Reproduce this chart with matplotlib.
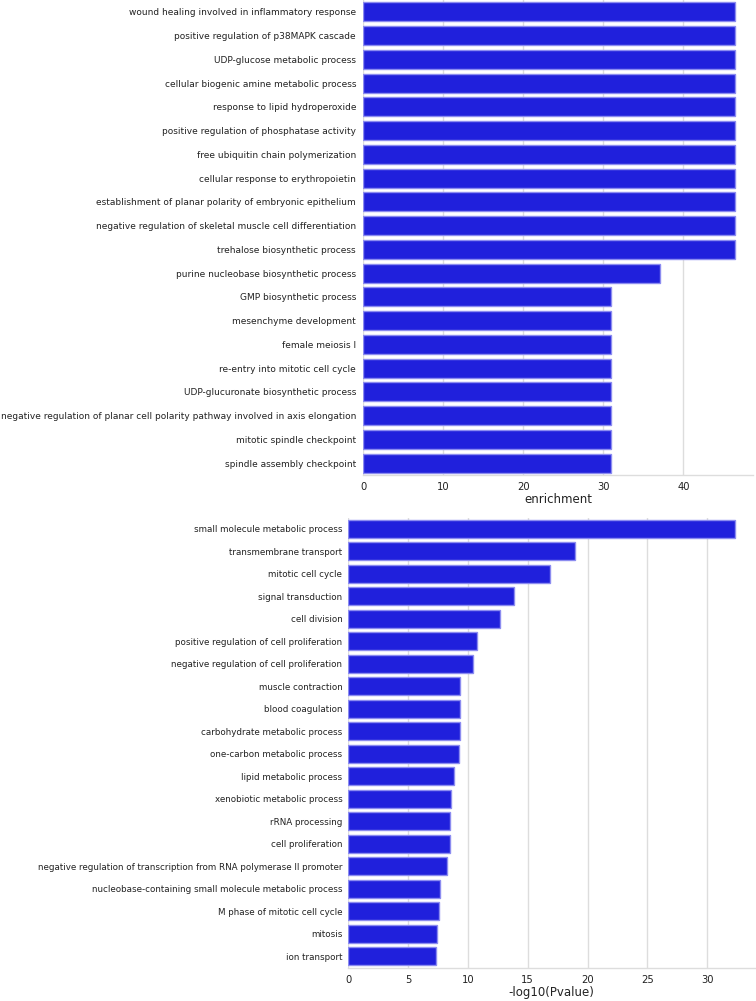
import matplotlib
matplotlib.use("Agg")
import matplotlib.pyplot as plt

top_terms = [
    "wound healing involved in inflammatory response",
    "positive regulation of p38MAPK cascade",
    "UDP-glucose metabolic process",
    "cellular biogenic amine metabolic process",
    "response to lipid hydroperoxide",
    "positive regulation of phosphatase activity",
    "free ubiquitin chain polymerization",
    "cellular response to erythropoietin",
    "establishment of planar polarity of embryonic epithelium",
    "negative regulation of skeletal muscle cell differentiation",
    "trehalose biosynthetic process",
    "purine nucleobase biosynthetic process",
    "GMP biosynthetic process",
    "mesenchyme development",
    "female meiosis I",
    "re-entry into mitotic cell cycle",
    "UDP-glucuronate biosynthetic process",
    "negative regulation of planar cell polarity pathway involved in axis elongation",
    "mitotic spindle checkpoint",
    "spindle assembly checkpoint",
]
top_values = [46.4] * 11 + [37.1] + [30.9] * 8

bottom_terms = [
    "small molecule metabolic process",
    "transmembrane transport",
    "mitotic cell cycle",
    "signal transduction",
    "cell division",
    "positive regulation of cell proliferation",
    "negative regulation of cell proliferation",
    "muscle contraction",
    "blood coagulation",
    "carbohydrate metabolic process",
    "one-carbon metabolic process",
    "lipid metabolic process",
    "xenobiotic metabolic process",
    "rRNA processing",
    "cell proliferation",
    "negative regulation of transcription from RNA polymerase II promoter",
    "nucleobase-containing small molecule metabolic process",
    "M phase of mitotic cell cycle",
    "mitosis",
    "ion transport",
]
bottom_values = [32.3, 18.96, 16.84, 13.88, 12.71, 10.79, 10.45, 9.34, 9.32, 9.31,
                 9.23, 8.84, 8.61, 8.53, 8.5, 8.28, 7.66, 7.55, 7.44, 7.35]

W, H = 756, 1001
fig = plt.figure(figsize=(W / 100, H / 100), dpi=100)

bar_color = "#2020DC"
edge_color = "#8C8CF0"
grid_color = "#DDDDDD"


def panel(rect, terms, values, xmax, ticks, xlabel, ysize, ypad):
    ax = fig.add_axes(rect)
    y = list(range(len(terms)))
    ax.barh(y, values, height=0.8, color=bar_color, edgecolor=edge_color,
            linewidth=1.0, zorder=2)
    ax.set_yticks(y)
    ax.set_yticklabels(terms, fontsize=ysize, color="#222222")
    ax.set_ylim(len(terms) - 0.5, -0.5)
    ax.set_xlim(0, xmax)
    ax.set_xticks(ticks)
    ax.tick_params(axis="x", labelsize=7.2, length=0, pad=5, colors="#222222")
    ax.tick_params(axis="y", length=0, pad=ypad)
    ax.grid(axis="x", color=grid_color, linewidth=1.0, zorder=0)
    ax.set_axisbelow(True)
    for s in ["top", "right", "left"]:
        ax.spines[s].set_visible(False)
    ax.spines["bottom"].set_color(grid_color)
    ax.spines["bottom"].set_linewidth(1.0)
    ax.set_xlabel(xlabel, fontsize=8.5, color="#222222", labelpad=1)
    return ax


panel([363.3 / W, 1 - 475 / H, (753 - 363.3) / W, 475 / H],
      top_terms, top_values, 48.7, [0, 10, 20, 30, 40], "enrichment", 6.5, 5.2)
panel([348.3 / W, 1 - 967.7 / H, (755 - 348.3) / W, (967.7 - 517.7) / H],
      bottom_terms, bottom_values, 34.0, [0, 5, 10, 15, 20, 25, 30],
      "-log10(Pvalue)", 6.3, 4.3)

fig.savefig("out.png", dpi=100)
